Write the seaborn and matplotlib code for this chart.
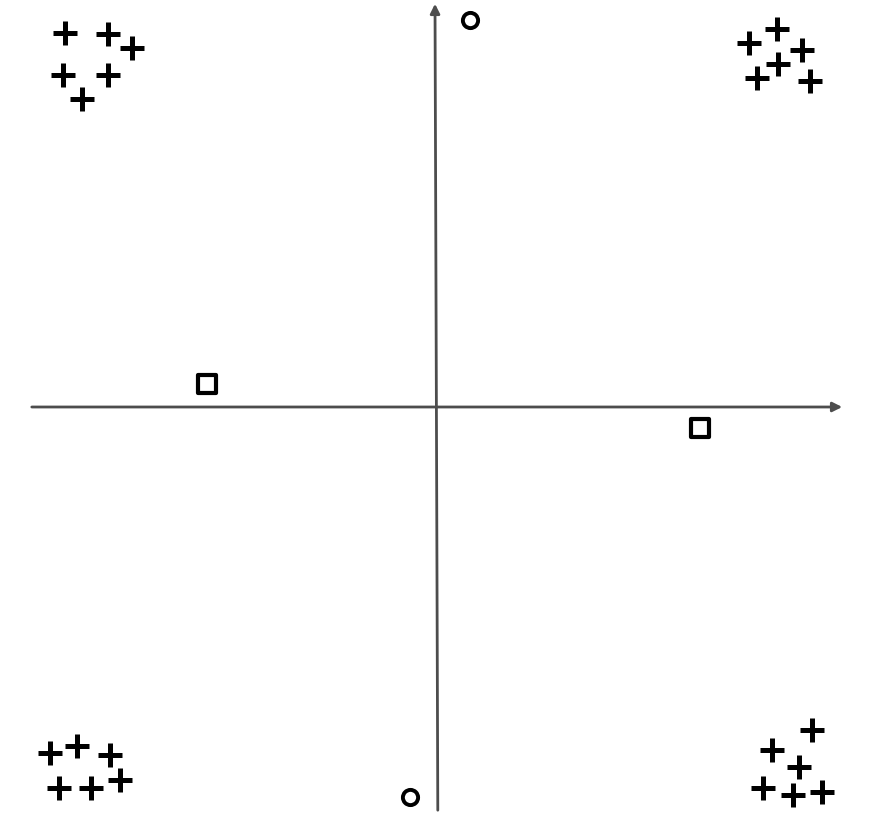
import numpy as np
import pandas as pd
import matplotlib
matplotlib.use("Agg")
import matplotlib.pyplot as plt
import seaborn as sns

# plus clusters, one per corner
plus_x = [-9.25, -8.18, -7.58, -9.30, -8.18, -8.83,
          8.55, 7.85, 9.18, 8.58, 8.05, 9.38,
          -9.63, -8.95, -8.13, -9.40, -8.60, -7.88,
          9.43, 8.43, 9.10, 8.20, 8.95, 9.68]
plus_y = [9.35, 9.33, 8.98, 8.30, 8.30, 7.70,
          9.45, 9.10, 8.93, 8.58, 8.23, 8.15,
          -8.65, -8.48, -8.70, -9.53, -9.53, -9.33,
          -8.08, -8.58, -9.00, -9.53, -9.70, -9.63]

# the odd ones out
circle_x = [0.88, -0.63]
circle_y = [9.68, -9.75]
square_x = [-5.70, 6.63]
square_y = [0.58, -0.53]

plus_df = pd.DataFrame({"x": plus_x, "y": plus_y})
circle_df = pd.DataFrame({"x": circle_x, "y": circle_y})
square_df = pd.DataFrame({"x": square_x, "y": square_y})

sns.set_style("white")
fig = plt.figure(figsize=(8.72, 8.26), dpi=100)
ax = fig.add_axes([0, 0, 1, 1])

# axes with arrow heads
axis_kw = dict(arrowstyle="-|>", color="#4d4d4d", lw=2.0, mutation_scale=14,
               shrinkA=0, shrinkB=0)
ax.annotate("", xy=(10.18, 0), xytext=(-10.08, 0), arrowprops=axis_kw)
ax.annotate("", xy=(0, 10.08), xytext=(0.07, -10.08), arrowprops=axis_kw)

sns.scatterplot(data=plus_df, x="x", y="y", marker="+", s=300,
                color="black", linewidth=3.6, ax=ax, zorder=3)
sns.scatterplot(data=circle_df, x="x", y="y", marker="o", s=120,
                facecolor="white", edgecolor="black", linewidth=2.8,
                ax=ax, zorder=3)
sns.scatterplot(data=square_df, x="x", y="y", marker="s", s=180,
                facecolor="white", edgecolor="black", linewidth=3.0,
                ax=ax, zorder=3)

ax.set_xlim(-10.875, 10.925)
ax.set_ylim(-10.475, 10.175)
ax.set_axis_off()

plt.savefig("out.png", dpi=100)
